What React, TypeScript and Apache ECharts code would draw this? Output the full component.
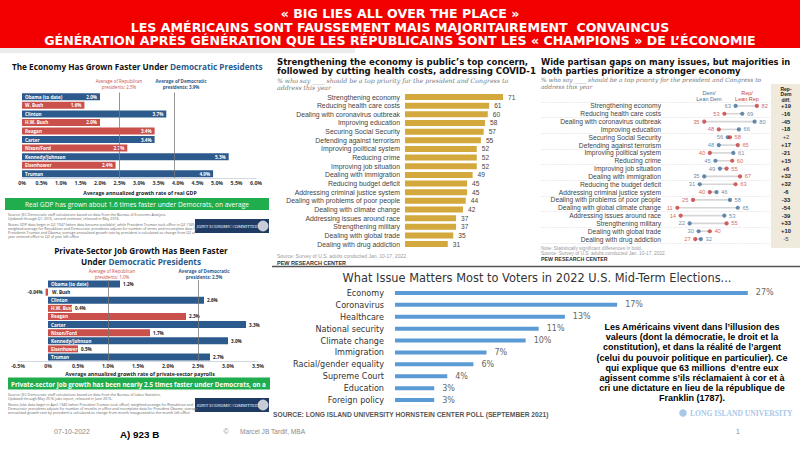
import React, { useEffect, useRef } from 'react';
import * as echarts from 'echarts';

// ---------- DATA ----------
const presidents = ['Obama (to date)', 'W. Bush', 'Clinton', 'H.W. Bush', 'Reagan', 'Carter', 'Nixon/Ford', 'Kennedy/Johnson', 'Eisenhower', 'Truman'];
const presidentParty = ['D', 'R', 'D', 'R', 'R', 'D', 'R', 'D', 'R', 'D'];
const gdpGrowth = [2.0, 1.6, 3.7, 2.0, 3.4, 3.4, 2.7, 5.3, 2.4, 4.9];
const gdpAverages = [2.5, 3.9]; // Republican, Democratic
const jobGrowth = [1.2, -0.04, 2.6, 0.4, 2.3, 3.3, 1.7, 3.0, 0.5, 2.7];
const jobAverages = [1.0, 2.5]; // Republican, Democratic

const pewIssues = ['Strengthening economy', 'Reducing health care costs', 'Dealing with coronavirus outbreak', 'Improving education', 'Securing Social Security', 'Defending against terrorism', 'Improving political system', 'Reducing crime', 'Improving job situation', 'Dealing with immigration', 'Reducing budget deficit', 'Addressing criminal justice system', 'Dealing with problems of poor people', 'Dealing with climate change', 'Addressing issues around race', 'Strengthening military', 'Dealing with global trade', 'Dealing with drug addiction'];
const pewTotal = [71, 61, 60, 58, 57, 55, 52, 52, 52, 49, 45, 45, 44, 42, 37, 37, 35, 31];

const partisanIssues = ['Strengthening economy', 'Reducing health care costs', 'Dealing with coronavirus outbreak', 'Improving education', 'Securing Social Security', 'Defending against terrorism', 'Improving political system', 'Reducing crime', 'Improving job situation', 'Dealing with immigration', 'Reducing the budget deficit', 'Addressing criminal justice system', 'Dealing with problems of poor people', 'Dealing with global climate change', 'Addressing issues around race', 'Strengthening military', 'Dealing with global trade', 'Dealing with drug addiction'];
const demValues = [63, 69, 80, 66, 56, 48, 61, 45, 49, 35, 31, 46, 58, 65, 53, 22, 30, 32];
const repValues = [82, 53, 35, 48, 58, 65, 40, 60, 55, 67, 63, 40, 25, 11, 14, 55, 40, 27];
const diffSignificant = [true, true, true, true, false, true, true, true, true, true, true, true, true, true, true, true, true, false];

const liuIssues = ['Economy', 'Coronavirus', 'Healthcare', 'National security', 'Climate change', 'Immigration', 'Racial/gender equality', 'Supreme Court', 'Education', 'Foreign policy'];
const liuShares = [27, 17, 13, 11, 10, 7, 6, 4, 3, 3];

// ---------- STYLE ----------
const DEM = '#2c5a8c';
const REP = '#c9504b';
const GREEN = '#20ad4e';
const GOLD = '#d3a83c';
const PEW_DEM = '#3f6f98';
const PEW_REP = '#c93a3a';
const LIU = '#5b9bd5';
const SANS = 'Liberation Sans, Arial, sans-serif';
const OPEN = 'Open Sans, Liberation Sans, sans-serif';
const DJV = 'DejaVu Sans, Verdana, sans-serif';

const fmtPct = (v: number) => (v === 0 ? '0%' : (Math.abs(v) < 0.1 ? v.toFixed(2) : v.toFixed(1)) + '%');

type TS = { fill?: string; size?: number; weight?: string; family?: string; style?: string; align?: string; extra?: any };
const T = (x: number, y: number, text: string, s: TS = {}) => ({
  type: 'text',
  x,
  y,
  z: 100,
  silent: true,
  style: {
    text,
    fill: s.fill ?? '#333',
    fontSize: s.size ?? 6,
    fontWeight: s.weight ?? 'normal',
    fontFamily: s.family ?? SANS,
    fontStyle: s.style ?? 'normal',
    align: s.align ?? 'left',
    textAlign: s.align ?? 'left',
    verticalAlign: 'middle',
    textVerticalAlign: 'middle',
    ...(s.extra || {}),
  },
});
const R = (x: number, y: number, w: number, h: number, fill: string, z = -1) => ({
  type: 'rect', z, silent: true, shape: { x, y, width: w, height: h }, style: { fill },
});

const jecLogo = (x: number, y: number) => [
  R(x, y, 74, 14, '#1f3b63', 50),
  T(x + 32, y + 7, 'JOINT ECONOMIC COMMITTEE', { fill: '#fff', size: 4.2, family: 'Liberation Serif, serif', align: 'center' }),
  { type: 'circle', z: 60, silent: true, shape: { cx: x + 68, cy: y + 7, r: 5 }, style: { fill: '#c8ccd6', stroke: '#fff', lineWidth: 0.6 } },
];

const noteStyle = { size: 3.6, fill: '#666', family: OPEN };
const axisTitle = { size: 5.2, weight: 'bold', align: 'center', family: OPEN, fill: '#222' };
const banner = { fill: '#fff', size: 12.6, weight: 'bold', align: 'center', family: DJV };

const graphics: any[] = [
  // red banner
  R(0, 0, 800, 48, '#f20000', 40),
  R(0, 48, 355, 5, '#ececec', 40),
  T(400, 13.5, '« BIG LIES ALL OVER THE PLACE »', banner),
  T(400, 27, 'LES AMÉRICAINS SONT FAUSSEMENT MAIS MAJORITAIREMENT  CONVAINCUS', banner),
  T(400, 40.5, 'GÉNÉRATION APRÈS GÉNÉRATION QUE LES RÉPUBLICAINS SONT LES « CHAMPIONS » DE L\u2019ÉCONOMIE', banner),

  // ---- left top (GDP) ----
  T(12, 66, 'The Economy Has Grown Faster Under {b|Democratic Presidents}', {
    size: 8.2, weight: 'bold', family: OPEN, fill: '#111',
    extra: { rich: { b: { fill: DEM, color: DEM, fontSize: 8.2, fontWeight: 'bold', fontFamily: OPEN } } },
  }),
  T(119, 81, 'Average of Republican', { fill: REP, size: 4.5, align: 'center', family: OPEN }),
  T(119, 87, 'presidents: 2.5%', { fill: REP, size: 4.5, align: 'center', family: OPEN }),
  T(181, 81, 'Average of Democratic', { fill: DEM, size: 4.5, align: 'center', family: OPEN, weight: 'bold' }),
  T(181, 87, 'presidents: 3.9%', { fill: DEM, size: 4.5, align: 'center', family: OPEN, weight: 'bold' }),
  T(140, 192.5, 'Average annualized growth rate of real GDP', axisTitle),
  R(5, 198, 264, 12, GREEN, 40),
  T(137, 204.5, 'Real GDP has grown about 1.6 times faster under Democrats, on average', { fill: '#fff', size: 6.6, align: 'center', family: OPEN }),
  T(8, 214, 'Source: JEC Democratic staff calculations based on data from the Bureau of Economic Analysis.', noteStyle),
  T(8, 218, 'Updated through Q1 2016, second estimate, released in May 2016.', noteStyle),
  T(8, 224, 'Notes: GDP data begin in Q2 1947 (when data became available), while President Truman took office in Q2 1945;', noteStyle),
  T(8, 228, 'weighted average for Republican and Democratic presidents adjusts for number of terms and incomplete data for', noteStyle),
  T(8, 232, 'Presidents Truman and Obama; average annualized growth rate by president is calculated as change from Q2 of', noteStyle),
  T(8, 236, 'year entered office to Q2 of year left office', noteStyle),
  ...jecLogo(195, 219),

  // ---- left bottom (jobs) ----
  T(141, 250, 'Private-Sector Job Growth Has Been Faster', { size: 8.2, weight: 'bold', align: 'center', family: OPEN, fill: '#111' }),
  T(141, 261, 'Under {b|Democratic Presidents}', {
    size: 8.2, weight: 'bold', align: 'center', family: OPEN, fill: '#111',
    extra: { rich: { b: { fill: DEM, color: DEM, fontSize: 8.2, fontWeight: 'bold', fontFamily: OPEN } } },
  }),
  T(112, 271, 'Average of Republican', { fill: REP, size: 4.5, align: 'center', family: OPEN }),
  T(112, 277, 'presidents: 1.0%', { fill: REP, size: 4.5, align: 'center', family: OPEN }),
  T(204, 271, 'Average of Democratic', { fill: DEM, size: 4.5, align: 'center', family: OPEN, weight: 'bold' }),
  T(204, 277, 'presidents: 2.5%', { fill: DEM, size: 4.5, align: 'center', family: OPEN, weight: 'bold' }),
  T(140, 373.5, 'Average annualized growth rate of private-sector payrolls', axisTitle),
  R(8, 377.5, 262, 12, GREEN, 40),
  T(11, 384, 'Private-sector job growth has been nearly 2.5 times faster under Democrats, on average', {
    fill: '#fff', size: 6.3, weight: 'bold', family: OPEN, extra: { width: 257, overflow: 'truncate', ellipsis: '' },
  }),
  T(8, 394, 'Source: JEC Democratic staff calculations based on data from the Bureau of Labor Statistics.', noteStyle),
  T(8, 398, 'Updated through May 2016 jobs report, released in June 2016.', noteStyle),
  T(8, 404, 'Notes: Jobs data begin in April 1945 (when President Truman took office); weighted average for Republican and', noteStyle),
  T(8, 408, 'Democratic presidents adjusts for number of months in office and incomplete data for President Obama; average', noteStyle),
  T(8, 412, 'annualized growth rate by president is calculated as change from month inaugurated to the month left office', noteStyle),
  ...jecLogo(195, 398),

  // ---- middle (Pew bars) ----
  T(277, 62, 'Strengthening the economy is public\u2019s top concern,', { size: 8.6, weight: 'bold', fill: '#111', family: DJV }),
  T(277, 71, 'followed by cutting health costs, addressing COVID-19', { size: 8.6, weight: 'bold', fill: '#111', family: DJV, extra: { width: 262, overflow: 'truncate', ellipsis: '' } }),
  T(277, 80, '% who say ____ should be a top priority for the president and Congress to', { size: 6.2, style: 'italic', fill: '#777', family: 'DejaVu Serif, serif', extra: { width: 262, overflow: 'truncate', ellipsis: '' } }),
  T(277, 87, 'address this year', { size: 6.2, style: 'italic', fill: '#777', family: 'DejaVu Serif, serif' }),
  T(277, 256, 'Source: Survey of U.S. adults conducted Jan. 10-17, 2022.', { size: 5, fill: '#999' }),
  T(277, 263, 'PEW RESEARCH CENTER', { size: 5.5, weight: 'bold', fill: '#333' }),

  // ---- right (Pew partisan) ----
  T(541, 62, 'Wide partisan gaps on many issues, but majorities in', { size: 8.3, weight: 'bold', fill: '#111', family: DJV, extra: { width: 258, overflow: 'truncate', ellipsis: '' } }),
  T(541, 71, 'both parties prioritize a stronger economy', { size: 8.3, weight: 'bold', fill: '#111', family: DJV }),
  T(541, 79.5, '% who say ____ should be a top priority for the president and Congress to', { size: 5.9, style: 'italic', fill: '#777', family: 'DejaVu Serif, serif', extra: { width: 255, overflow: 'truncate', ellipsis: '' } }),
  T(541, 86.5, 'address this year', { size: 5.9, style: 'italic', fill: '#777', family: 'DejaVu Serif, serif' }),
  R(771, 84, 29, 164, '#efeadb', -5),
  T(709, 93, 'Dem/', { size: 5.5, fill: PEW_DEM, align: 'center' }),
  T(709, 99, 'Lean Dem', { size: 5.5, fill: PEW_DEM, align: 'center' }),
  T(747, 93, 'Rep/', { size: 5.5, fill: PEW_REP, align: 'center' }),
  T(747, 99, 'Lean Rep', { size: 5.5, fill: PEW_REP, align: 'center' }),
  T(786, 88.5, 'Rep-', { size: 5, weight: 'bold', fill: '#222', align: 'center' }),
  T(786, 94, 'Dem', { size: 5, weight: 'bold', fill: '#222', align: 'center' }),
  T(786, 99.5, 'diff.', { size: 5, weight: 'bold', fill: '#222', align: 'center' }),
  T(541, 248, 'Note: Statistically significant differences in bold.', { size: 4.8, fill: '#999' }),
  T(541, 253, 'Source: Survey of U.S. adults conducted Jan. 10-17, 2022.', { size: 4.8, fill: '#999' }),
  T(541, 259, 'PEW RESEARCH CENTER', { size: 5.3, weight: 'bold', fill: '#333' }),

  // ---- bottom (LIU) ----
  { type: 'line', z: 30, silent: true, shape: { x1: 272, y1: 266.5, x2: 800, y2: 266.5 }, style: { stroke: '#555', lineWidth: 1.5 } },
  T(537, 278, 'What Issue Matters Most to Voters in 2022 U.S. Mid-Term Elections...', { size: 11.4, family: DJV, fill: '#333', align: 'center' }),
  T(273, 414, 'SOURCE: LONG ISLAND UNIVERSITY HORNSTEIN CENTER POLL (SEPTEMBER 2021)', { size: 6.7, weight: 'bold', fill: '#555' }),
  { type: 'circle', z: 60, silent: true, shape: { cx: 683, cy: 413, r: 3.8 }, style: { fill: '#a9c9ea' } },
  T(690, 413.5, 'LONG ISLAND UNIVERSITY', { size: 7.6, weight: 'bold', fill: '#a9c9ea', family: 'Liberation Serif, serif' }),
  {
    type: 'text', x: 692, y: 322, z: 120, silent: true,
    style: {
      text: 'Les Américains vivent dans l\u2019illusion des\nvaleurs (dont la démocratie, le droit et la\nconstitution), et dans la réalité de l\u2019argent\n(celui du pouvoir politique en particulier). Ce\nqui explique que 63 millions  d\u2019entre eux\nagissent comme s\u2019ils réclamaient à cor et à\ncri une dictature en lieu de la république de\nFranklin (1787).',
      fill: '#000', fontSize: 9, fontWeight: 'bold', fontFamily: SANS, lineHeight: 10.15,
      align: 'center', textAlign: 'center', verticalAlign: 'top', textVerticalAlign: 'top',
    },
  },

  // ---- footer ----
  T(72, 431, '07-10-2022', { size: 7, fill: '#8a8a8a', align: 'center' }),
  T(120, 434, 'A) 923 B', { size: 9.8, weight: 'bold', fill: '#000' }),
  T(226, 431, '©', { size: 7, fill: '#8a8a8a', align: 'center' }),
  T(240, 431, 'Marcel JB Tardif, MBA', { size: 6.6, fill: '#8a8a8a' }),
  T(738, 431, '1', { size: 7, fill: '#8a8a8a', align: 'center' }),
];

const hiddenValue = (gridIndex: number, min: number, max: number) => ({
  gridIndex, type: 'value', min, max, show: false, splitLine: { show: false },
});

const pctAxis = (gridIndex: number, min: number, max: number) => ({
  gridIndex, type: 'value', min, max, interval: 0.5,
  axisLabel: { formatter: (v: number) => fmtPct(v), fontSize: 5.2, fontWeight: 'bold', color: '#333', fontFamily: OPEN, margin: 2.5, showMinLabel: true, showMaxLabel: true, hideOverlap: false },
  axisLine: { show: true, lineStyle: { color: '#c6cfdb', width: 0.8 } },
  axisTick: { show: false },
  splitLine: { show: false },
});

const gridBase = { containLabel: false, outerBoundsMode: 'none' };

const option: any = {
  animation: false,
  backgroundColor: '#ffffff',
  graphic: { elements: graphics },
  grid: [
    { ...gridBase, left: 22, width: 234, top: 92.5, height: 85.5 },
    { ...gridBase, left: 18, width: 240, top: 280, height: 81 },
    { ...gridBase, left: 405, width: 138, top: 92.7, height: 155.7 },
    { ...gridBase, left: 665, width: 112, top: 102, height: 141 },
    { ...gridBase, left: 541, width: 229, top: 102, height: 141 },
    { ...gridBase, left: 395, width: 392, top: 287, height: 119 },
  ],
  xAxis: [
    pctAxis(0, 0, 6),
    pctAxis(1, -0.5, 3.5),
    hiddenValue(2, 0, 100),
    hiddenValue(3, 0, 100),
    hiddenValue(4, 0, 1),
    hiddenValue(5, 0, 30),
  ],
  yAxis: [
    { gridIndex: 0, type: 'category', data: presidents, inverse: true, show: false },
    { gridIndex: 1, type: 'category', data: presidents, inverse: true, show: false },
    {
      gridIndex: 2, type: 'category', data: pewIssues, inverse: true,
      axisLine: { show: false }, axisTick: { show: false },
      axisLabel: { interval: 0, fontSize: 6.9, color: '#444', fontFamily: SANS, margin: 5 },
    },
    {
      gridIndex: 3, type: 'category', data: partisanIssues, inverse: true,
      axisLine: { show: false }, axisTick: { show: false },
      axisLabel: { interval: 0, fontSize: 6.7, color: '#444', fontFamily: SANS, margin: 4 },
    },
    {
      gridIndex: 3, type: 'category', position: 'right', inverse: true,
      data: partisanIssues.map((_, i) => {
        const d = repValues[i] - demValues[i];
        return (d > 0 ? '+' : '') + d;
      }),
      axisLine: { show: false }, axisTick: { show: false },
      axisLabel: {
        interval: 0, align: 'center', margin: 9,
        formatter: (v: string, i: number) => (diffSignificant[i] ? `{b|${v}}` : `{n|${v}}`),
        rich: {
          b: { fontSize: 5.8, fontWeight: 'bold', color: '#222', fontFamily: SANS },
          n: { fontSize: 5.8, color: '#444', fontFamily: SANS },
        },
      },
    },
    {
      gridIndex: 4, type: 'category', data: partisanIssues, inverse: true,
      axisLine: { show: false }, axisTick: { show: false }, axisLabel: { show: false },
      splitLine: { show: true, lineStyle: { color: '#d2d2d2', type: 'dotted', width: 0.6 } },
    },
    {
      gridIndex: 5, type: 'category', data: liuIssues, inverse: true,
      axisLine: { show: false }, axisTick: { show: false },
      axisLabel: { interval: 0, fontSize: 8.1, color: '#333', fontFamily: DJV, margin: 11 },
    },
  ],
  series: [
    // GDP
    {
      type: 'bar', xAxisIndex: 0, yAxisIndex: 0, barWidth: 7,
      data: gdpGrowth.map((v, i) => ({ value: v, itemStyle: { color: presidentParty[i] === 'D' ? DEM : REP } })),
      label: { show: true, position: 'insideLeft', distance: 3, formatter: (p: any) => p.name, color: '#fff', fontSize: 4.6, fontWeight: 'bold', fontFamily: OPEN },
      markLine: {
        silent: true, symbol: 'none', label: { show: false },
        lineStyle: { color: '#7a7a7a', width: 0.8, type: 'solid' },
        data: gdpAverages.map((v) => ({ xAxis: v })),
      },
    },
    {
      type: 'bar', xAxisIndex: 0, yAxisIndex: 0, barWidth: 7, barGap: '-100%',
      data: gdpGrowth, itemStyle: { color: 'rgba(0,0,0,0)' },
      label: { show: true, position: 'insideRight', distance: 3, formatter: (p: any) => fmtPct(p.value), color: '#fff', fontSize: 4.6, fontWeight: 'bold', fontFamily: OPEN },
    },
    // Jobs
    {
      type: 'bar', xAxisIndex: 1, yAxisIndex: 1, barWidth: 7,
      data: jobGrowth.map((v, i) => ({
        value: v,
        itemStyle: { color: presidentParty[i] === 'D' ? DEM : REP },
        label: v < 0 ? { position: 'right', color: '#222', distance: 4 } : undefined,
      })),
      label: { show: true, position: 'insideLeft', distance: 3, formatter: (p: any) => p.name, color: '#fff', fontSize: 4.6, fontWeight: 'bold', fontFamily: OPEN },
      markLine: {
        silent: true, symbol: 'none', label: { show: false },
        lineStyle: { color: '#7a7a7a', width: 0.8, type: 'solid' },
        data: jobAverages.map((v) => ({ xAxis: v })),
      },
    },
    {
      type: 'bar', xAxisIndex: 1, yAxisIndex: 1, barWidth: 7, barGap: '-100%',
      data: jobGrowth.map((v) => ({ value: v, label: v < 0 ? { position: 'left' } : undefined })),
      itemStyle: { color: 'rgba(0,0,0,0)' },
      label: { show: true, position: 'right', distance: 3, formatter: (p: any) => fmtPct(p.value), color: '#222', fontSize: 4.6, fontWeight: 'bold', fontFamily: OPEN },
    },
    // Pew totals
    {
      type: 'bar', xAxisIndex: 2, yAxisIndex: 2, barWidth: 6,
      data: pewTotal, itemStyle: { color: GOLD },
      label: { show: true, position: 'right', distance: 5, color: '#444', fontSize: 6.6, fontFamily: SANS },
    },
    // Pew partisan: connector
    {
      type: 'bar', xAxisIndex: 3, yAxisIndex: 3, stack: 'gap', barWidth: 1.6,
      data: demValues.map((d, i) => Math.min(d, repValues[i])), itemStyle: { color: 'rgba(0,0,0,0)' }, silent: true,
    },
    {
      type: 'bar', xAxisIndex: 3, yAxisIndex: 3, stack: 'gap', barWidth: 1.6,
      data: demValues.map((d, i) => Math.abs(d - repValues[i])), itemStyle: { color: '#d6d6d6' }, silent: true,
    },
    {
      type: 'scatter', xAxisIndex: 3, yAxisIndex: 3, symbolSize: 4.2, z: 5,
      itemStyle: { color: PEW_DEM },
      data: demValues.map((d, i) => ({ value: [d, i], label: { position: d < repValues[i] ? 'left' : 'right' } })),
      label: { show: true, formatter: (p: any) => String(p.value[0]), color: PEW_DEM, fontSize: 5.8, distance: 2.5, fontFamily: SANS },
    },
    {
      type: 'scatter', xAxisIndex: 3, yAxisIndex: 3, symbolSize: 4.2, z: 5,
      itemStyle: { color: PEW_REP },
      data: repValues.map((r, i) => ({ value: [r, i], label: { position: r < demValues[i] ? 'left' : 'right' } })),
      label: { show: true, formatter: (p: any) => String(p.value[0]), color: PEW_REP, fontSize: 5.8, distance: 2.5, fontFamily: SANS },
    },
    { type: 'scatter', xAxisIndex: 4, yAxisIndex: 5, data: [] },
    // LIU
    {
      type: 'bar', xAxisIndex: 5, yAxisIndex: 6, barWidth: 4,
      data: liuShares, itemStyle: { color: LIU },
      label: { show: true, position: 'right', distance: 8, formatter: '{c}%', color: '#666', fontSize: 8, fontFamily: DJV },
    },
  ],
};

export default function App() {
  const ref = useRef<HTMLDivElement>(null);
  useEffect(() => {
    if (!ref.current) return;
    const chart = echarts.init(ref.current, null, { renderer: 'svg' });
    chart.setOption(option);
    return () => chart.dispose();
  }, []);
  return <div ref={ref} style={{ position: 'fixed', left: 0, top: 0, width: 800, height: 450, background: '#fff' }} />;
}
